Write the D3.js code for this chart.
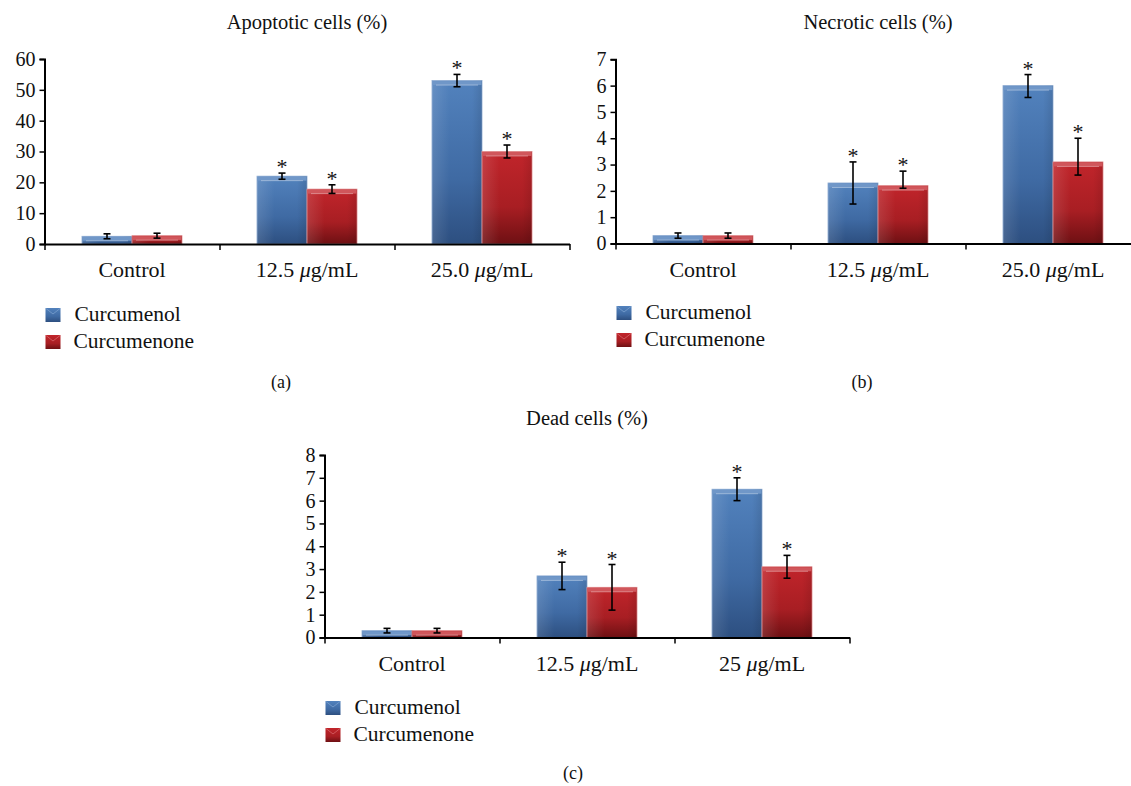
<!DOCTYPE html>
<html>
<head>
<meta charset="utf-8">
<script src="https://cdnjs.cloudflare.com/ajax/libs/d3/7.8.5/d3.min.js"></script>
<style>
  body { margin: 0; background: #fff; }
  svg text { font-family: "Liberation Serif", "Times New Roman", serif; fill: #111; }
</style>
</head>
<body>
<div id="chart"></div>
<script>
// data
var series = ["Curcumenol", "Curcumenone"];
var categoriesAB = ["Control", "12.5", "25.0"];
var categoriesC = ["Control", "12.5", "25"];

var apoptoticCurcumenol = [2.5, 22, 53];
var apoptoticCurcumenolErr = [0.8, 1.0, 2.0];
var apoptoticCurcumenone = [2.7, 17.8, 30];
var apoptoticCurcumenoneErr = [0.8, 1.4, 2.1];

var necroticCurcumenol = [0.3, 2.3, 6.0];
var necroticCurcumenolErrLow = [0.1, 0.8, 0.45];
var necroticCurcumenolErrHigh = [0.1, 0.8, 0.42];
var necroticCurcumenone = [0.3, 2.2, 3.1];
var necroticCurcumenoneErrLow = [0.1, 0.1, 0.5];
var necroticCurcumenoneErrHigh = [0.1, 0.55, 0.9];

var deadCurcumenol = [0.3, 2.7, 6.5];
var deadCurcumenolErr = [0.1, 0.6, 0.5];
var deadCurcumenone = [0.3, 2.2, 3.1];
var deadCurcumenoneErr = [0.1, 1.0, 0.5];

var significant = [false, true, true];

var svgWidth = 1131;
var svgHeight = 786;
var serif = "'Liberation Serif', 'Times New Roman', serif";

var svg = d3.select("#chart")
    .append("svg")
    .attr("width", svgWidth)
    .attr("height", svgHeight)
    .attr("font-family", serif);

var defs = svg.append("defs");

function addGradient(id, stops) {
    var g = defs.append("linearGradient")
        .attr("id", id)
        .attr("x1", 0).attr("y1", 0)
        .attr("x2", 0).attr("y2", 1);
    stops.forEach(function(s) {
        g.append("stop").attr("offset", s[0]).attr("stop-color", s[1]);
    });
}
addGradient("gradBlue", [[0, "#5282bd"], [0.6, "#3f6aa3"], [1, "#2d4f80"]]);
addGradient("gradRed", [[0, "#c1252b"], [0.6, "#a81e23"], [1, "#6e1013"]]);
// soft side shading across the bar
var side = defs.append("linearGradient").attr("id", "gradSide")
    .attr("x1", 0).attr("y1", 0).attr("x2", 1).attr("y2", 0);
side.append("stop").attr("offset", 0).attr("stop-color", "#fff").attr("stop-opacity", 0.12);
side.append("stop").attr("offset", 0.35).attr("stop-color", "#fff").attr("stop-opacity", 0);
side.append("stop").attr("offset", 0.8).attr("stop-color", "#000").attr("stop-opacity", 0);
side.append("stop").attr("offset", 1).attr("stop-color", "#000").attr("stop-opacity", 0.1);

var fills = {Curcumenol: "url(#gradBlue)", Curcumenone: "url(#gradRed)"};
var bevels = {Curcumenol: "#7097c8", Curcumenone: "#d0565b"};
var edges = {Curcumenol: "#8aa8d0", Curcumenone: "#e08a8c"};

function categoryLabel(sel, label) {
    if (label === "Control") {
        sel.text(label);
        return;
    }
    sel.text(label + " ");
    sel.append("tspan").attr("font-style", "italic").text("\u03bc");
    sel.append("tspan").text("g/mL");
}

function drawPanel(opt) {
    var g = svg.append("g");

    var plotWidth = 525;
    var x = d3.scaleBand()
        .domain(opt.categories)
        .range([opt.left, opt.left + plotWidth]);
    var xInner = d3.scaleBand()
        .domain(series)
        .range([37.5, 137.5]);
    var y = d3.scaleLinear()
        .domain([0, opt.max])
        .range([opt.bottom, opt.top]);

    // title
    g.append("text")
        .attr("x", opt.left + plotWidth / 2)
        .attr("y", opt.top - 30)
        .attr("text-anchor", "middle")
        .attr("font-size", "20.5px")
        .text(opt.title);

    // bars
    var rows = [];
    opt.categories.forEach(function(c, i) {
        series.forEach(function(s, j) {
            rows.push({
                cat: c, series: s, value: opt.values[j][i],
                lo: opt.values[j][i] - opt.errLow[j][i],
                hi: opt.values[j][i] + opt.errHigh[j][i],
                star: significant[i]
            });
        });
    });

    var bars = g.selectAll(".bar")
        .data(rows)
        .enter()
        .append("g")
        .attr("class", "bar");

    bars.append("rect")
        .attr("x", d => x(d.cat) + xInner(d.series))
        .attr("y", d => y(d.value))
        .attr("width", xInner.bandwidth())
        .attr("height", d => opt.bottom - y(d.value))
        .attr("fill", d => fills[d.series])
        .attr("stroke", d => edges[d.series])
        .attr("stroke-width", 0.8);

    bars.append("rect")
        .attr("x", d => x(d.cat) + xInner(d.series))
        .attr("y", d => y(d.value))
        .attr("width", xInner.bandwidth())
        .attr("height", d => opt.bottom - y(d.value))
        .attr("fill", "url(#gradSide)");

    // bevel on the top
    bars.append("rect")
        .attr("x", d => x(d.cat) + xInner(d.series) + 0.5)
        .attr("y", d => y(d.value) + 0.5)
        .attr("width", xInner.bandwidth() - 1)
        .attr("height", d => Math.min(4, opt.bottom - y(d.value) - 1))
        .attr("fill", d => bevels[d.series]);

    bars.append("line")
        .attr("x1", d => x(d.cat) + xInner(d.series) + 4)
        .attr("x2", d => x(d.cat) + xInner(d.series) + xInner.bandwidth() - 4)
        .attr("y1", d => y(d.value) + 4.5)
        .attr("y2", d => y(d.value) + 4.5)
        .attr("stroke", "#ffffff")
        .attr("stroke-opacity", 0.45)
        .attr("stroke-width", 0.8);

    // error bars
    var cx = d => x(d.cat) + xInner(d.series) + xInner.bandwidth() / 2;
    bars.append("line")
        .attr("x1", cx).attr("x2", cx)
        .attr("y1", d => y(d.lo)).attr("y2", d => y(d.hi))
        .attr("stroke", "#000").attr("stroke-width", 1.6);
    ["lo", "hi"].forEach(function(k) {
        bars.append("line")
            .attr("x1", d => cx(d) - 3.5).attr("x2", d => cx(d) + 3.5)
            .attr("y1", d => y(d[k])).attr("y2", d => y(d[k]))
            .attr("stroke", "#000").attr("stroke-width", 1.6);
    });

    bars.filter(d => d.star)
        .append("text")
        .attr("x", cx)
        .attr("y", d => y(d.hi) + 1)
        .attr("text-anchor", "middle")
        .attr("font-size", "22px")
        .text("*");

    // y axis
    var leftAxis = d3.axisLeft(y)
        .ticks(opt.max / opt.step)
        .tickSize(5)
        .tickSizeOuter(5)
        .tickPadding(4);
    var yAxis = g.append("g")
        .attr("transform", `translate(${opt.left}, 0)`)
        .call(leftAxis)
        .attr("font-family", serif);
    yAxis.selectAll("text")
        .attr("font-size", "20px")
        .attr("fill", "#111");
    yAxis.select(".domain").attr("stroke-width", 2);
    yAxis.selectAll(".tick line").attr("stroke-width", 1.5);

    // x axis: boundary ticks
    var xb = d3.scaleLinear().domain([0, 3]).range([opt.left, opt.left + plotWidth]);
    var bottomAxis = d3.axisBottom(xb)
        .tickValues([0, 1, 2, 3])
        .tickFormat("")
        .tickSize(6)
        .tickSizeOuter(0);
    var xAxis = g.append("g")
        .attr("transform", `translate(0, ${opt.bottom})`)
        .call(bottomAxis);
    xAxis.select(".domain").attr("stroke-width", 2.2);
    xAxis.selectAll(".tick line").attr("stroke-width", 1.5);

    // category labels
    g.selectAll(".cat")
        .data(opt.categories)
        .enter()
        .append("text")
        .attr("class", "cat")
        .attr("x", d => x(d) + x.bandwidth() / 2)
        .attr("y", opt.bottom + 33)
        .attr("text-anchor", "middle")
        .attr("font-size", "22px")
        .each(function(d) { categoryLabel(d3.select(this), d); });

    // legend
    var legend = g.selectAll(".legend")
        .data(series)
        .enter()
        .append("g")
        .attr("class", "legend")
        .attr("transform", (d, i) => `translate(${opt.left + 1}, ${opt.legendTop + i * 27})`);
    legend.append("rect")
        .attr("width", 15).attr("height", 14)
        .attr("fill", d => fills[d]);
    legend.append("path")
        .attr("d", "M0.5,0.5 L7.5,6 L14.5,0.5")
        .attr("fill", "none")
        .attr("stroke", d => bevels[d])
        .attr("stroke-width", 1);
    legend.append("text")
        .attr("x", d => d === "Curcumenol" ? 29 : 28)
        .attr("y", 13)
        .attr("font-size", "21.5px")
        .text(d => d);

    // panel letter
    svg.append("text")
        .attr("x", opt.capX)
        .attr("y", opt.capY)
        .attr("text-anchor", "middle")
        .attr("font-size", "18px")
        .text(opt.caption);
}

drawPanel({
    title: "Apoptotic cells (%)",
    categories: categoriesAB,
    values: [apoptoticCurcumenol, apoptoticCurcumenone],
    errLow: [apoptoticCurcumenolErr, apoptoticCurcumenoneErr],
    errHigh: [apoptoticCurcumenolErr, apoptoticCurcumenoneErr],
    max: 60, step: 10,
    left: 44.5, top: 59, bottom: 244,
    legendTop: 308,
    caption: "(a)", capX: 281, capY: 388
});

drawPanel({
    title: "Necrotic cells (%)",
    categories: categoriesAB,
    values: [necroticCurcumenol, necroticCurcumenone],
    errLow: [necroticCurcumenolErrLow, necroticCurcumenoneErrLow],
    errHigh: [necroticCurcumenolErrHigh, necroticCurcumenoneErrHigh],
    max: 7, step: 1,
    left: 615.5, top: 59.3, bottom: 243.5,
    legendTop: 306,
    caption: "(b)", capX: 862, capY: 388
});

drawPanel({
    title: "Dead cells (%)",
    categories: categoriesC,
    values: [deadCurcumenol, deadCurcumenone],
    errLow: [deadCurcumenolErr, deadCurcumenoneErr],
    errHigh: [deadCurcumenolErr, deadCurcumenoneErr],
    max: 8, step: 1,
    left: 324.5, top: 455, bottom: 637.5,
    legendTop: 701,
    caption: "(c)", capX: 573, capY: 779
});
</script>
</body>
</html>
